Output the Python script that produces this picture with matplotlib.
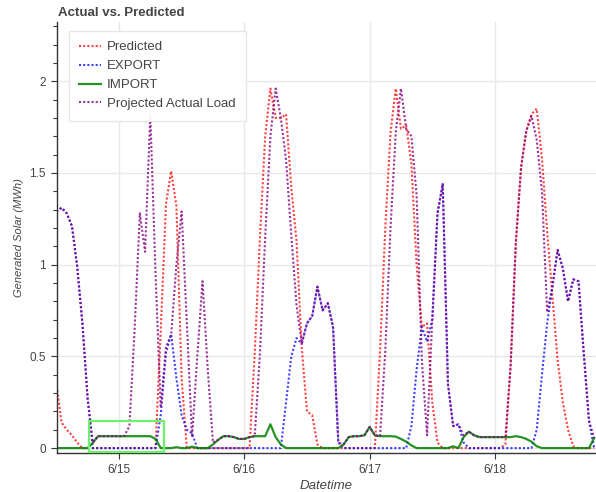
import numpy as np
import pandas as pd
import matplotlib
matplotlib.use('Agg')
import matplotlib.pyplot as plt
import matplotlib.dates as mdates
from matplotlib.patches import Rectangle
from matplotlib.ticker import AutoMinorLocator, FuncFormatter

plt.rcParams['font.family'] = ['Liberation Sans', 'DejaVu Sans']

# hourly values, 6/14 12:00 -> 6/18 19:00
times = pd.date_range('2019-06-14 12:00', periods=104, freq='h')

predicted = [
    0.36, 0.14, 0.10, 0.07, 0.03, 0, 0, 0, 0, 0, 0, 0,            # 6/14 12-23
    0, 0, 0, 0, 0, 0, 0, 0, 0.64, 1.33, 1.51, 1.32,              # 6/15 0-11
    0.38, 0, 0, 0, 0, 0, 0, 0, 0, 0, 0, 0,                       # 6/15 12-23
    0, 0, 0.52, 1.15, 1.70, 1.96, 1.80, 1.80, 1.82, 1.42, 1.13, 0.55,  # 6/16 0-11
    0.20, 0.18, 0.02, 0, 0, 0, 0, 0, 0, 0, 0, 0,                 # 6/16 12-23
    0, 0, 0.53, 1.20, 1.72, 1.96, 1.74, 1.76, 1.55, 1.00, 0.66, 0.68,  # 6/17 0-11
    0.25, 0.03, 0, 0, 0, 0, 0, 0, 0, 0, 0, 0,                    # 6/17 12-23
    0, 0, 0.02, 0.45, 1.12, 1.53, 1.73, 1.82, 1.85, 1.58, 1.18, 0.83,  # 6/18 0-11
    0.48, 0.25, 0.10, 0.01, 0, 0, 0, 0,                          # 6/18 12-19
]

export = [
    1.29, 1.31, 1.28, 1.21, 0.99, 0.68, 0.27, 0, 0, 0, 0, 0,
    0, 0, 0, 0, 0, 0, 0, 0, 0.18, 0.52, 0.62, 0.38,
    0.18, 0.10, 0.08, 0, 0, 0, 0, 0, 0, 0, 0, 0,
    0, 0, 0, 0, 0, 0, 0, 0, 0.25, 0.50, 0.60, 0.57,
    0.68, 0.72, 0.88, 0.75, 0.79, 0.66, 0.03, 0, 0, 0, 0, 0,
    0, 0, 0, 0, 0, 0, 0, 0, 0.12, 0.43, 0.66, 0.58,
    0.70, 1.28, 1.44, 0.35, 0.12, 0.13, 0.03, 0, 0, 0, 0, 0,
    0, 0, 0, 0, 0, 0, 0, 0, 0.10, 0.40, 0.68, 0.88,
    1.08, 0.98, 0.80, 0.92, 0.91, 0.52, 0.15, 0,
]

imported = [
    0, 0, 0, 0, 0, 0, 0, 0.03, 0.065, 0.065, 0.065, 0.065,
    0.065, 0.065, 0.065, 0.065, 0.065, 0.065, 0.065, 0.05, 0, 0, 0, 0.005,
    0, 0, 0.008, 0, 0, 0, 0.02, 0.045, 0.065, 0.065, 0.06, 0.05,
    0.05, 0.06, 0.065, 0.065, 0.065, 0.13, 0.06, 0.02, 0, 0, 0, 0,
    0, 0, 0, 0, 0, 0, 0, 0.02, 0.06, 0.065, 0.065, 0.07,
    0.115, 0.07, 0.065, 0.065, 0.065, 0.063, 0.05, 0.035, 0.015, 0, 0, 0,
    0, 0, 0, 0, 0.01, 0, 0.06, 0.09, 0.07, 0.06, 0.06, 0.06,
    0.06, 0.06, 0.06, 0.06, 0.065, 0.06, 0.05, 0.035, 0.01, 0, 0, 0,
    0, 0, 0, 0, 0, 0, 0, 0.055,
]

load = [
    1.29, 1.31, 1.28, 1.21, 0.99, 0.68, 0.27, 0.03, 0.065, 0.065, 0.065, 0.065,
    0.065, 0.065, 0.12, 0.65, 1.28, 1.07, 1.82, 0.95, 0.22, 0.55, 0.62, 1.00,
    1.29, 0.68, 0.06, 0.50, 0.91, 0.43, 0.03, 0.045, 0.065, 0.065, 0.06, 0.05,
    0.05, 0.06, 0.065, 0.52, 1.15, 1.70, 1.96, 1.80, 1.57, 1.16, 0.78, 0.57,
    0.68, 0.72, 0.88, 0.75, 0.79, 0.66, 0.03, 0.02, 0.06, 0.065, 0.065, 0.07,
    0.115, 0.07, 0.065, 0.53, 1.20, 1.72, 1.96, 1.74, 1.70, 1.38, 0.48, 0.07,
    0.70, 1.28, 1.44, 0.35, 0.12, 0.13, 0.07, 0.09, 0.07, 0.06, 0.06, 0.06,
    0.06, 0.06, 0.06, 0.45, 1.12, 1.53, 1.73, 1.81, 1.68, 1.40, 0.74, 0.88,
    1.08, 0.98, 0.80, 0.92, 0.91, 0.52, 0.15, 0.055,
]

day_ticks = pd.to_datetime(['2019-06-15', '2019-06-16', '2019-06-17', '2019-06-18'])
day_labels = ['6/15', '6/16', '6/17', '6/18']

fig = plt.figure(figsize=(5.96, 4.92), dpi=100)
ax = fig.add_axes([57 / 596, 1 - 452.7 / 492, 1 - 57 / 596, (452.7 - 22.5) / 492])

ax.plot(times, predicted, color='red', lw=1.5, dashes=(1, 1), alpha=0.75, label='Predicted')
ax.plot(times, export, color='blue', lw=1.5, dashes=(1, 1), alpha=0.75, label='EXPORT')
ax.plot(times, imported, color='green', lw=1.6, alpha=0.85, label='IMPORT')
ax.plot(times, load, color='purple', lw=1.5, dashes=(1, 1), alpha=0.8, label='Projected Actual Load')

# highlighted night import block
t0 = mdates.date2num(pd.Timestamp('2019-06-14 18:18'))
t1 = mdates.date2num(pd.Timestamp('2019-06-15 08:42'))
ax.add_patch(Rectangle((t0, -0.02), t1 - t0, 0.168, fill=False,
                       edgecolor='#6cf26c', lw=1.6, clip_on=False, zorder=5))

ax.set_xlim(pd.Timestamp('2019-06-14 12:08'), pd.Timestamp('2019-06-18 19:21'))
ax.set_ylim(-0.025, 2.32)

ax.set_xticks(day_ticks)
ax.set_xticklabels(day_labels)
ax.set_yticks([0, 0.5, 1, 1.5, 2])
ax.yaxis.set_major_formatter(FuncFormatter(lambda v, p: '%g' % v))
ax.yaxis.set_minor_locator(AutoMinorLocator(5))

ax.grid(color='#e8e8e8', lw=1)
ax.set_axisbelow(True)
for s in ['top', 'right']:
    ax.spines[s].set_visible(False)
for s in ['left', 'bottom']:
    ax.spines[s].set_color('#333333')
    ax.spines[s].set_linewidth(1)
ax.tick_params(which='major', direction='out', length=4.5, width=0.8, color='#333333',
               labelsize=8.5, labelcolor='#444444', pad=3.5)
ax.tick_params(which='minor', direction='out', length=3, width=0.8, color='#333333')

ax.set_xlabel('Datetime', style='italic', fontsize=9.5, color='#444444', labelpad=3)
ax.set_ylabel('Generated Solar (MWh)', style='italic', fontsize=8, color='#444444', labelpad=4)

fig.text(58 / 596, 1 - 12.5 / 492, 'Actual vs. Predicted', fontweight='bold',
         fontsize=9.5, color='#444444', va='center')

leg = ax.legend(loc='upper left', bbox_to_anchor=(0.022, 0.981), borderaxespad=0,
                fontsize=9.5, handlelength=1.6, handletextpad=0.5, labelspacing=0.5,
                borderpad=0.8, fancybox=False, framealpha=0.95, edgecolor='#e6e6e6')
for t in leg.get_texts():
    t.set_color('#444444')

fig.savefig('out.png', dpi=100)
